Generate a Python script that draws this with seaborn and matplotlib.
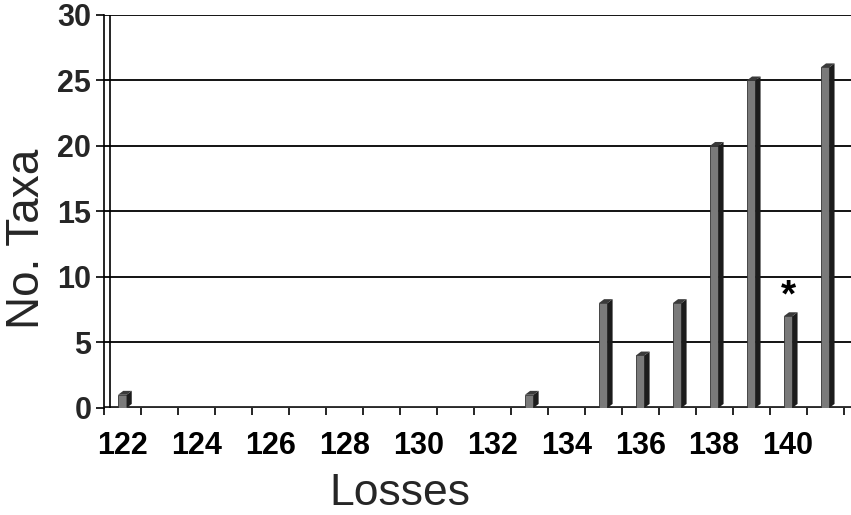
import numpy as np
import pandas as pd
import matplotlib
matplotlib.use('Agg')
import matplotlib.pyplot as plt
import seaborn as sns

# Data
losses = [122, 123, 124, 125, 126, 127, 128, 129, 130, 131,
          132, 133, 134, 135, 136, 137, 138, 139, 140, 141]
n_taxa = [1, 0, 0, 0, 0, 0, 0, 0, 0, 0,
          0, 1, 0, 8, 4, 8, 20, 25, 7, 26]
tick_labels = [122, 124, 126, 128, 130, 132, 134, 136, 138, 140]
y_ticks = [0, 5, 10, 15, 20, 25, 30]
starred = 140

df = pd.DataFrame({'Losses': losses, 'Taxa': n_taxa})

sns.set_theme(style='white')
plt.rcParams['font.family'] = ['Liberation Sans', 'DejaVu Sans']

fig = plt.figure(figsize=(8.51, 5.15), dpi=100)
ax = fig.add_axes([0.122, 0.208, 0.878, 0.763])

# gridlines first so bars sit on top
for v in y_ticks[1:]:
    ax.axhline(v, color='black', lw=1.3, zorder=1)

w = 0.23     # front face width
sw = 0.14    # side face depth
dy = 0.3     # top face lift

sns.barplot(data=df, x='Losses', y='Taxa', native_scale=True, width=w,
            color='#7a7a7a', saturation=1, edgecolor='#333333', linewidth=0.6,
            ax=ax, zorder=3)

# 3D side and top faces
for x, h in zip(df['Losses'], df['Taxa']):
    if h <= 0:
        continue
    xl, xr = x - w / 2, x + w / 2
    ax.fill([xr, xr + sw, xr + sw, xr], [0, dy, h + dy, h],
            color='#1c1c1c', zorder=3, lw=0)
    ax.fill([xl, xl + sw, xr + sw, xr], [h, h + dy, h + dy, h],
            color='#3a3a3a', zorder=3, lw=0)

# floor line
ax.axhline(0, color='#2a2a2a', lw=3.5, zorder=2)
# back wall second line
ax.axvline(121.5 + 0.17, color='black', lw=1.2, zorder=2)

# asterisk over the marked bar
h_star = n_taxa[losses.index(starred)]
ax.text(starred, h_star + 0.15, '*', ha='center', va='bottom',
        fontsize=28, fontweight='bold', color='black')

ax.set_xlim(121.5, 141.7)
ax.set_ylim(0, 30)

ax.set_xticks(tick_labels)
ax.set_xticklabels([str(t) for t in tick_labels], fontsize=22, fontweight='bold')
ax.set_xticks(np.arange(121.5, 142, 1), minor=True)
ax.tick_params(axis='x', which='major', length=0, pad=17, colors='black')
ax.tick_params(axis='x', which='minor', length=5, width=1.2, direction='out',
               color='black', bottom=True)

ax.set_yticks(y_ticks)
ax.set_yticklabels([str(t) for t in y_ticks], fontsize=22, fontweight='bold')
ax.tick_params(axis='y', length=6, width=1.2, direction='out', color='black',
               left=True, pad=3)

for s in ['top', 'right']:
    ax.spines[s].set_visible(False)
ax.spines['left'].set_color('black')
ax.spines['left'].set_linewidth(1.2)
ax.spines['bottom'].set_visible(False)

ax.set_xlabel('Losses', fontsize=32)
ax.xaxis.set_label_coords(0.396, -0.165)
ax.set_ylabel('No. Taxa', fontsize=33)
ax.yaxis.set_label_coords(-0.073, 0.43)

fig.savefig('out.png', dpi=100)
